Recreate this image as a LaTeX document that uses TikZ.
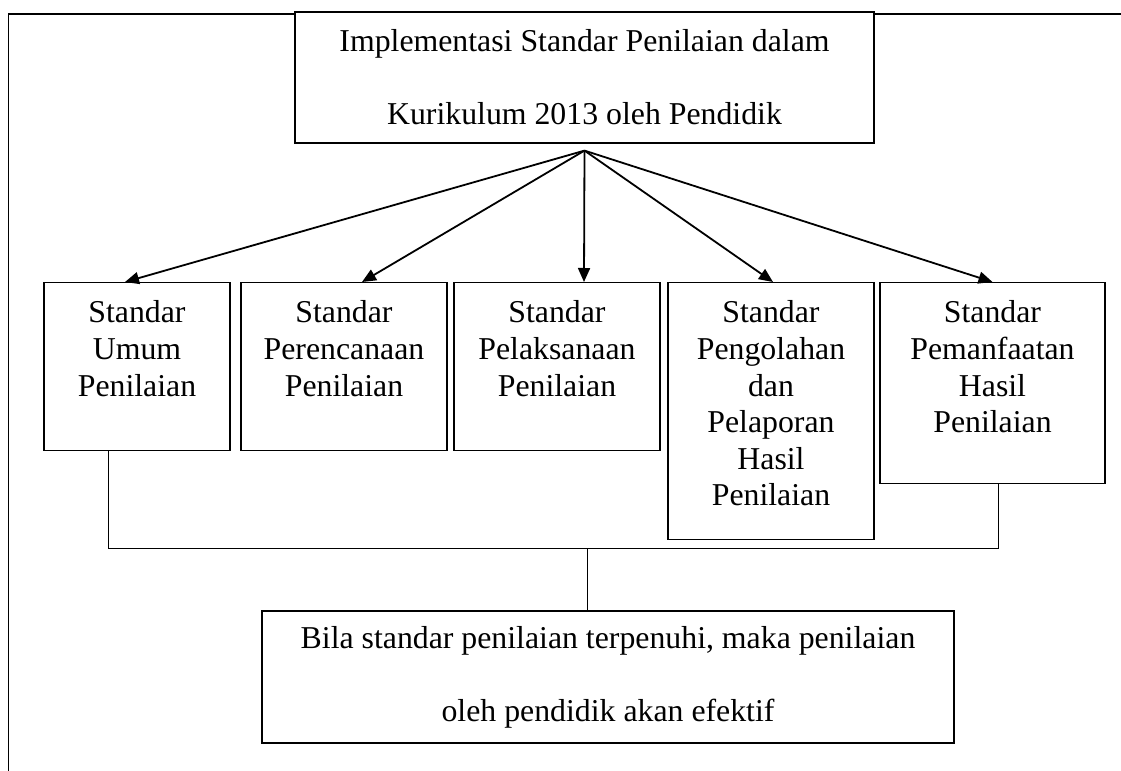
\documentclass[tikz,border=0pt]{standalone}
\usepackage{fontspec}
\setmainfont{Liberation Serif}
\usetikzlibrary{arrows.meta}

\tikzset{
    frame/.style={line width=0.75pt},
    mainbox/.style={draw, line width=0.6pt, fill=white, align=center, inner sep=0pt,
        font=\fontsize{15.9pt}{36.5pt}\selectfont},
    stdbox/.style={draw, line width=0.6pt, anchor=north, inner sep=0pt},
    stdtext/.style={anchor=north, align=center, inner sep=0pt,
        font=\fontsize{15.9pt}{18.3pt}\selectfont},
    arr/.style={line width=0.9pt, -{Triangle[length=7pt, width=6pt]}},
    bus/.style={line width=0.5pt}
}

\begin{document}
\begin{tikzpicture}[x=0.5pt, y=-0.5pt]
    \useasboundingbox (0,0) rectangle (1121,771);

    % Draw page frame
    \draw[frame] (8.5,771) -- (8.5,14) -- (1121,14);

    % Draw top box
    \node[mainbox, minimum width=289.5pt, minimum height=65.5pt] (impl) at (584.5,77.5)
        {Implementasi Standar Penilaian dalam\\Kurikulum 2013 oleh Pendidik};
    \coordinate (apex) at ([yshift=-3.5pt]impl.south);

    % Draw standard boxes
    \node[stdbox, minimum width=93pt, minimum height=84pt] (umum) at (137,282) {};
    \node[stdbox, minimum width=103pt, minimum height=84pt] (rencana) at (344,282) {};
    \node[stdbox, minimum width=103pt, minimum height=84pt] (laksana) at (557,282) {};
    \node[stdbox, minimum width=103pt, minimum height=128.5pt] (olah) at (771,282) {};
    \node[stdbox, minimum width=112.5pt, minimum height=100.5pt] (manfaat) at (992.5,282) {};

    % Labels
    \node[stdtext] (umumtxt) at ([yshift=-9.2pt]umum.north) {Standar\\Umum\\Penilaian};
    \node[stdtext] (rencanatxt) at ([yshift=-9.2pt]rencana.north) {Standar\\Perencanaan\\Penilaian};
    \node[stdtext] (laksanatxt) at ([yshift=-9.2pt]laksana.north) {Standar\\Pelaksanaan\\Penilaian};
    \node[stdtext] (olahtxt) at ([yshift=-9.2pt]olah.north)
        {Standar\\Pengolahan\\dan\\Pelaporan\\Hasil\\Penilaian};
    \node[stdtext] (manfaattxt) at ([yshift=-9.2pt]manfaat.north)
        {Standar\\Pemanfaatan\\Hasil\\Penilaian};

    % Draw arrows
    \draw[arr] (apex) -- ([xshift=-6pt]umum.north);
    \draw[arr] (apex) -- ([xshift=9pt]rencana.north);
    \draw[arr] (apex) -- ([xshift=13.5pt]laksana.north);
    \draw[arr] (apex) -- ([xshift=1pt]olah.north);
    \draw[arr] (apex) -- (manfaat.north);

    % Draw bottom box
    \node[mainbox, minimum width=346pt, minimum height=66pt] (efektif) at (608,677)
        {Bila standar penilaian terpenuhi, maka penilaian\\oleh pendidik akan efektif};

    % Draw bus
    \coordinate (busl) at (108,548);
    \coordinate (busr) at (998,548);
    \coordinate (busm) at (587,548);
    \draw[bus] (busl |- umum.south) -- (busl) -- (busr) -- (busr |- manfaat.south);
    \draw[bus] (busm) -- (busm |- efektif.north);
\end{tikzpicture}
\end{document}
